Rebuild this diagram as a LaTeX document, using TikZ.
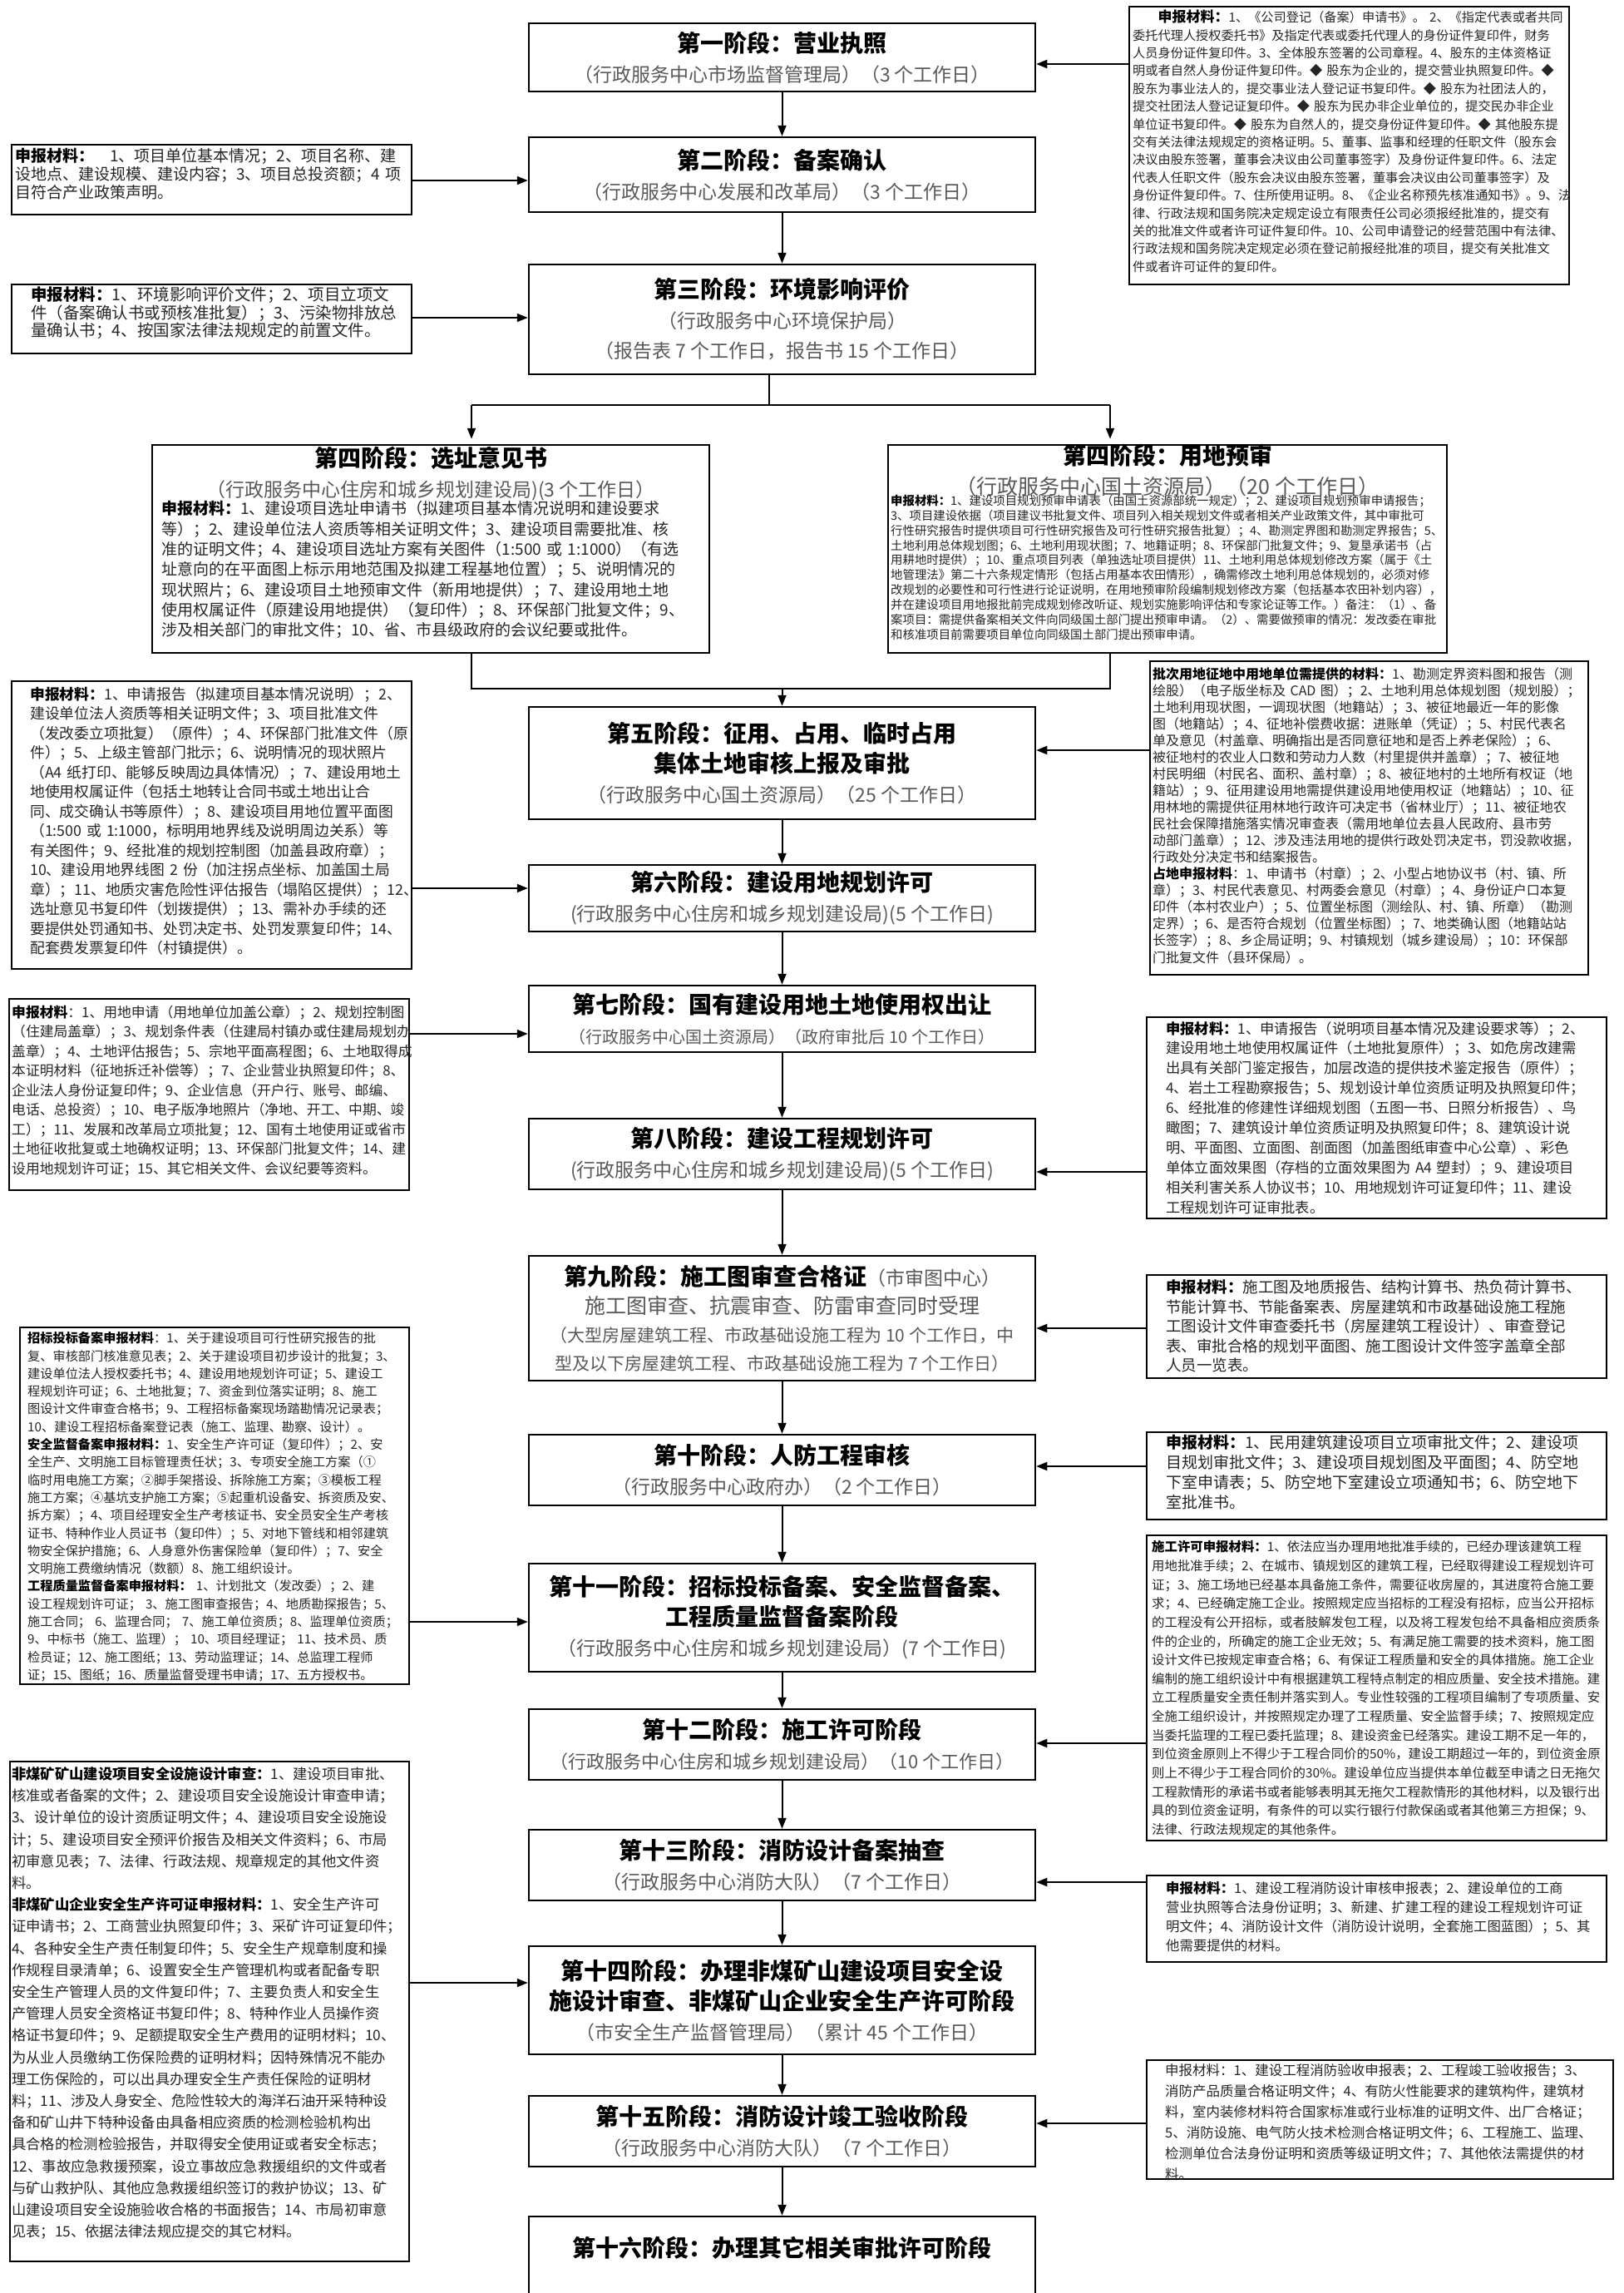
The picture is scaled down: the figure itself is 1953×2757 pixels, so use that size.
\documentclass[tikz,border=0pt]{standalone}
\usepackage{fontspec}
\setmainfont{Noto Sans CJK SC}
\usetikzlibrary{arrows.meta}
\XeTeXlinebreaklocale "zh"
\XeTeXlinebreakskip=0pt plus 1pt
\setlength\parindent{0pt}
\newcommand\jl[1]{\leavevmode\hbox to \linewidth{#1}}
\newcommand\ttl{\fontsize{28}{36}\selectfont\bfseries\color{black}}
\newcommand\sbt{\fontsize{23}{36}\selectfont\color{black!65}}
\newcommand\lbl[1]{{\bfseries\color{black}#1}}
\tikzset{
  box/.style={draw=black, line width=2.5pt, rectangle, inner sep=0pt},
  stagetxt/.style={align=center, inner sep=0pt, font=\fontsize{23}{36}\selectfont},
  mat/.style={anchor=north west, inner sep=0pt, align=left, text=black!85},
  link/.style={line width=2pt, -{Triangle[length=13pt,width=10pt]}},
  plainline/.style={line width=2pt},
}
\begin{document}
\begin{tikzpicture}[x=1pt,y=-1pt]
\useasboundingbox (0,0) rectangle (1953,2757);
\fill[white] (0,0) rectangle (1953,2757);
\clip (0,0) rectangle (1953,2757);

% ---------- stage boxes ----------
\node[box, minimum width=609pt, minimum height=82pt] (s1) at (940.5,69) {};
\node[box, minimum width=609pt, minimum height=90pt] (s2) at (940.5,210) {};
\node[box, minimum width=609pt, minimum height=132pt] (s3) at (940.5,384) {};
\node[box, minimum width=670pt, minimum height=250pt] (s4l) at (518,660) {};
\node[box, minimum width=672pt, minimum height=250pt] (s4r) at (1404,660) {};
\node[box, minimum width=609pt, minimum height=135pt] (s5) at (940.5,917.5) {};
\node[box, minimum width=609pt, minimum height=80pt] (s6) at (940.5,1080) {};
\node[box, minimum width=609pt, minimum height=80pt] (s7) at (940.5,1225) {};
\node[box, minimum width=609pt, minimum height=85pt] (s8) at (940.5,1387.5) {};
\node[box, minimum width=609pt, minimum height=150pt] (s9) at (940.5,1585) {};
\node[box, minimum width=609pt, minimum height=85pt] (s10) at (940.5,1767.5) {};
\node[box, minimum width=609pt, minimum height=130pt] (s11) at (940.5,1945) {};
\node[box, minimum width=609pt, minimum height=85pt] (s12) at (940.5,2097.5) {};
\node[box, minimum width=609pt, minimum height=85pt] (s13) at (940.5,2242.5) {};
\node[box, minimum width=609pt, minimum height=130pt] (s14) at (940.5,2405) {};
\node[box, minimum width=609pt, minimum height=85pt] (s15) at (940.5,2562.5) {};
\node[box, minimum width=609pt, minimum height=125pt] (s16) at (940.5,2727.5) {};

% ---------- stage texts ----------
\node[stagetxt] (s1t) at (s1.center) {{\ttl 第一阶段：营业执照}\\{\sbt （行政服务中心市场监督管理局）（3 个工作日）}};
\node[stagetxt] (s2t) at (s2.center) {{\ttl 第二阶段：备案确认}\\{\sbt （行政服务中心发展和改革局）（3 个工作日）}};
\node[stagetxt] (s3t) at (s3.center) {{\ttl 第三阶段：环境影响评价}\\{\sbt （行政服务中心环境保护局）}\\{\sbt （报告表 7 个工作日，报告书 15 个工作日）}};
\node[stagetxt] (s4lt) at (518,570) {{\ttl 第四阶段：选址意见书}\\{\sbt （行政服务中心住房和城乡规划建设局)(3 个工作日）}};
\node[stagetxt] (s4rt) at (1404,565) {{\ttl 第四阶段：用地预审}\\{\fontsize{25}{36}\selectfont\color{black!65}（行政服务中心国土资源局）（20 个工作日）}};
\node[stagetxt] (s5t) at (s5.center) {{\ttl 第五阶段：征用、占用、临时占用}\\{\ttl 集体土地审核上报及审批}\\{\sbt （行政服务中心国土资源局）（25 个工作日）}};
\node[stagetxt] (s6t) at (s6.center) {{\ttl 第六阶段：建设用地规划许可}\\{\sbt (行政服务中心住房和城乡规划建设局)(5 个工作日)}};
\node[stagetxt] (s7t) at (s7.center) {{\ttl 第七阶段：国有建设用地土地使用权出让}\\{\fontsize{20}{36}\selectfont\color{black!65}（行政服务中心国土资源局）（政府审批后 10 个工作日）}};
\node[stagetxt] (s8t) at (s8.center) {{\ttl 第八阶段：建设工程规划许可}\\{\sbt (行政服务中心住房和城乡规划建设局)(5 个工作日)}};
\node[stagetxt, font=\fontsize{21}{34}\selectfont] (s9t) at (s9.center) {{\ttl 第九阶段：施工图审查合格证}{\sbt （市审图中心）}\\{\fontsize{25}{34}\selectfont\color{black!65}施工图审查、抗震审查、防雷审查同时受理}\\{\fontsize{21}{34}\selectfont\color{black!65}（大型房屋建筑工程、市政基础设施工程为 10 个工作日，中}\\{\fontsize{21}{34}\selectfont\color{black!65}型及以下房屋建筑工程、市政基础设施工程为 7 个工作日）}};
\node[stagetxt] (s10t) at (s10.center) {{\ttl 第十阶段：人防工程审核}\\{\sbt （行政服务中心政府办）（2 个工作日）}};
\node[stagetxt] (s11t) at (s11.center) {{\ttl 第十一阶段：招标投标备案、安全监督备案、}\\{\ttl 工程质量监督备案阶段}\\{\sbt （行政服务中心住房和城乡规划建设局）(7 个工作日)}};
\node[stagetxt] (s12t) at (s12.center) {{\ttl 第十二阶段：施工许可阶段}\\{\fontsize{22}{36}\selectfont\color{black!65}（行政服务中心住房和城乡规划建设局）（10 个工作日）}};
\node[stagetxt] (s13t) at (s13.center) {{\ttl 第十三阶段：消防设计备案抽查}\\{\sbt （行政服务中心消防大队）（7 个工作日）}};
\node[stagetxt] (s14t) at (s14.center) {{\ttl 第十四阶段：办理非煤矿山建设项目安全设}\\{\ttl 施设计审查、非煤矿山企业安全生产许可阶段}\\{\sbt （市安全生产监督管理局）（累计 45 个工作日）}};
\node[stagetxt] (s15t) at (s15.center) {{\ttl 第十五阶段：消防设计竣工验收阶段}\\{\sbt （行政服务中心消防大队）（7 个工作日）}};
\node[stagetxt] (s16t) at (940.5,2703) {{\ttl 第十六阶段：办理其它相关审批许可阶段}};

% ---------- material boxes ----------
\node[box, minimum width=529pt, minimum height=334pt] (r1) at (1622.5,175) {};
\node[box, minimum width=481pt, minimum height=84pt] (l2) at (254.5,216) {};
\node[box, minimum width=481pt, minimum height=83pt] (l3) at (254.5,383.5) {};
\node[box, minimum width=481pt, minimum height=346pt] (l5) at (254.5,992) {};
\node[box, minimum width=527pt, minimum height=377pt] (r5) at (1646.5,983.5) {};
\node[box, minimum width=481pt, minimum height=230pt] (l7) at (251.5,1316) {};
\node[box, minimum width=553pt, minimum height=242pt] (r7) at (1655.5,1344) {};
\node[box, minimum width=553pt, minimum height=124pt] (r9) at (1655.5,1595) {};
\node[box, minimum width=553pt, minimum height=105pt] (r10) at (1655.5,1774.5) {};
\node[box, minimum width=468pt, minimum height=429pt] (l11) at (258,1810.5) {};
\node[box, minimum width=553pt, minimum height=367pt] (r12) at (1655.5,2029.5) {};
\node[box, minimum width=480pt, minimum height=601pt] (l13) at (252,2418.5) {};
\node[box, minimum width=553pt, minimum height=104pt] (r13) at (1655.5,2307) {};
\node[box, minimum width=561pt, minimum height=143pt] (r15) at (1659.5,2548.5) {};

% ---------- material texts ----------
\node[mat, text width=522pt, font=\fontsize{15.2}{21.4}\selectfont] (r1t) at (1362,12) {%
\jl{\hspace{2em}{\bfseries\color{black}\fontsize{17}{21.4}\selectfont 申报材料：}1、《公司登记（备案）申请书》。 2、《指定代表或者共同}\\
\jl{委托代理人授权委托书》及指定代表或委托代理人的身份证件复印件，财务}\\
\jl{人员身份证件复印件。3、全体股东签署的公司章程。4、股东的主体资格证}\\
\jl{明或者自然人身份证件复印件。◆ 股东为企业的，提交营业执照复印件。◆}\\
\jl{股东为事业法人的，提交事业法人登记证书复印件。◆ 股东为社团法人的，}\\
\jl{提交社团法人登记证复印件。◆ 股东为民办非企业单位的，提交民办非企业}\\
\jl{单位证书复印件。◆ 股东为自然人的，提交身份证件复印件。◆ 其他股东提}\\
\jl{交有关法律法规规定的资格证明。5、董事、监事和经理的任职文件（股东会}\\
\jl{决议由股东签署，董事会决议由公司董事签字）及身份证件复印件。6、法定}\\
\jl{代表人任职文件（股东会决议由股东签署，董事会决议由公司董事签字）及}\\
\jl{身份证件复印件。7、住所使用证明。8、《企业名称预先核准通知书》。9、法}\\
\jl{律、行政法规和国务院决定规定设立有限责任公司必须报经批准的，提交有}\\
\jl{关的批准文件或者许可证件复印件。10、公司申请登记的经营范围中有法律、}\\
\jl{行政法规和国务院决定规定必须在登记前报经批准的项目，提交有关批准文}\\
件或者许可证件的复印件。};

\node[mat, text width=474pt, font=\fontsize{19}{21.7}\selectfont] (l2t) at (18,178.5) {%
\jl{\lbl{申报材料：}　1、项目单位基本情况；2、项目名称、建}\\
\jl{设地点、建设规模、建设内容；3、项目总投资额；4 项}\\
目符合产业政策声明。};

\node[mat, text width=436pt, font=\fontsize{19.5}{21.5}\selectfont] (l3t) at (37,345) {%
\jl{\lbl{申报材料：}1、环境影响评价文件；2、项目立项文}\\
\jl{件（备案确认书或预核准批复）；3、污染物排放总}\\
量确认书；4、按国家法律法规规定的前置文件。};

\node[mat, text width=636pt, font=\fontsize{19}{24.3}\selectfont] (s4lb) at (194,602.5) {%
\jl{\lbl{申报材料：}1、建设项目选址申请书（拟建项目基本情况说明和建设要求}\\
\jl{等）；2、建设单位法人资质等相关证明文件；3、建设项目需要批准、核}\\
\jl{准的证明文件；4、建设项目选址方案有关图件（1:500 或 1:1000）（有选}\\
\jl{址意向的在平面图上标示用地范围及拟建工程基地位置）；5、说明情况的}\\
\jl{现状照片；6、建设项目土地预审文件（新用地提供）；7、建设用地土地}\\
\jl{使用权属证件（原建设用地提供）（复印件）；8、环保部门批复文件；9、}\\
涉及相关部门的审批文件；10、省、市县级政府的会议纪要或批件。};

\node[mat, text width=666pt, font=\fontsize{14.4}{17.9}\selectfont] (s4rb) at (1071,594.8) {%
\jl{\lbl{申报材料：}1、建设项目规划预审申请表（由国土资源部统一规定）；2、建设项目规划预审申请报告；}\\
\jl{3、项目建设依据（项目建议书批复文件、项目列入相关规划文件或者相关产业政策文件，其中审批可}\\
\jl{行性研究报告时提供项目可行性研究报告及可行性研究报告批复）；4、勘测定界图和勘测定界报告；5、}\\
\jl{土地利用总体规划图；6、土地利用现状图；7、地籍证明；8、环保部门批复文件；9、复垦承诺书（占}\\
\jl{用耕地时提供）；10、重点项目列表（单独选址项目提供）11、土地利用总体规划修改方案（属于《土}\\
\jl{地管理法》第二十六条规定情形（包括占用基本农田情形），确需修改土地利用总体规划的，必须对修}\\
\jl{改规划的必要性和可行性进行论证说明，在用地预审阶段编制规划修改方案（包括基本农田补划内容），}\\
\jl{并在建设项目用地报批前完成规划修改听证、规划实施影响评估和专家论证等工作。）备注：（1）、备}\\
\jl{案项目：需提供备案相关文件向同级国土部门提出预审申请。（2）、需要做预审的情况：发改委在审批}\\
和核准项目前需要项目单位向同级国土部门提出预审申请。};

\node[mat, text width=437pt, font=\fontsize{17.8}{23.5}\selectfont] (l5t) at (36,826) {%
\jl{\lbl{申报材料：}1、申请报告（拟建项目基本情况说明）；2、}\\
\jl{建设单位法人资质等相关证明文件；3、项目批准文件}\\
\jl{（发改委立项批复）（原件）；4、环保部门批准文件（原}\\
\jl{件）；5、上级主管部门批示；6、说明情况的现状照片}\\
\jl{（A4 纸打印、能够反映周边具体情况）；7、建设用地土}\\
\jl{地使用权属证件（包括土地转让合同书或土地出让合}\\
\jl{同、成交确认书等原件）；8、建设项目用地位置平面图}\\
\jl{（1:500 或 1:1000，标明用地界线及说明周边关系）等}\\
\jl{有关图件；9、经批准的规划控制图（加盖县政府章）；}\\
\jl{10、建设用地界线图 2 份（加注拐点坐标、加盖国土局}\\
\jl{章）；11、地质灾害危险性评估报告（塌陷区提供）；12、}\\
\jl{选址意见书复印件（划拨提供）；13、需补办手续的还}\\
\jl{要提供处罚通知书、处罚决定书、处罚发票复印件；14、}\\
配套费发票复印件（村镇提供）。};

\node[mat, text width=521pt, font=\fontsize{16}{20.05}\selectfont] (r5t) at (1386,802) {%
\jl{\lbl{批次用地征地中用地单位需提供的材料：}1、勘测定界资料图和报告（测}\\
\jl{绘股）（电子版坐标及 CAD 图）；2、土地利用总体规划图（规划股）；}\\
\jl{土地利用现状图，一调现状图（地籍站）；3、被征地最近一年的影像}\\
\jl{图（地籍站）；4、征地补偿费收据：进账单（凭证）；5、村民代表名}\\
\jl{单及意见（村盖章、明确指出是否同意征地和是否上养老保险）；6、}\\
\jl{被征地村的农业人口数和劳动力人数（村里提供并盖章）；7、被征地}\\
\jl{村民明细（村民名、面积、盖村章）；8、被征地村的土地所有权证（地}\\
\jl{籍站）；9、征用建设用地需提供建设用地使用权证（地籍站）；10、征}\\
\jl{用林地的需提供征用林地行政许可决定书（省林业厅）；11、被征地农}\\
\jl{民社会保障措施落实情况审查表（需用地单位去县人民政府、县市劳}\\
\jl{动部门盖章）；12、涉及违法用地的提供行政处罚决定书，罚没款收据，}\\
行政处分决定书和结案报告。\\
\jl{\lbl{占地申报材料}：1、申请书（村章）；2、小型占地协议书（村、镇、所}\\
\jl{章）；3、村民代表意见、村两委会意见（村章）；4、身份证户口本复}\\
\jl{印件（本村农业户）；5、位置坐标图（测绘队、村、镇、所章）（勘测}\\
\jl{定界）；6、是否符合规划（位置坐标图）；7、地类确认图（地籍站站}\\
\jl{长签字）；8、乡企局证明；9、村镇规划（城乡建设局）；10：环保部}\\
门批复文件（县环保局）。};

\node[mat, text width=476pt, font=\fontsize{16.8}{23.5}\selectfont] (l7t) at (14,1208.6) {%
\jl{\lbl{申报材料}：1、用地申请（用地单位加盖公章）；2、规划控制图}\\
\jl{（住建局盖章）；3、规划条件表（住建局村镇办或住建局规划办}\\
\jl{盖章）；4、土地评估报告；5、宗地平面高程图；6、土地取得成}\\
\jl{本证明材料（征地拆迁补偿等）；7、企业营业执照复印件；8、}\\
\jl{企业法人身份证复印件；9、企业信息（开户行、账号、邮编、}\\
\jl{电话、总投资）；10、电子版净地照片（净地、开工、中期、竣}\\
\jl{工）；11、发展和改革局立项批复；12、国有土地使用证或省市}\\
\jl{土地征收批复或土地确权证明；13、环保部门批复文件；14、建}\\
设用地规划许可证；15、其它相关文件、会议纪要等资料。};

\node[mat, text width=509pt, font=\fontsize{17.3}{23.9}\selectfont] (r7t) at (1402,1228) {%
\jl{\lbl{申报材料：}1、申请报告（说明项目基本情况及建设要求等）；2、}\\
\jl{建设用地土地使用权属证件（土地批复原件）；3、如危房改建需}\\
\jl{出具有关部门鉴定报告，加层改造的提供技术鉴定报告（原件）；}\\
\jl{4、岩土工程勘察报告；5、规划设计单位资质证明及执照复印件；}\\
\jl{6、经批准的修建性详细规划图（五图一书、日照分析报告）、鸟}\\
\jl{瞰图；7、建筑设计单位资质证明及执照复印件；8、建筑设计说}\\
\jl{明、平面图、立面图、剖面图（加盖图纸审查中心公章）、彩色}\\
\jl{单体立面效果图（存档的立面效果图为 A4 塑封）；9、建设项目}\\
\jl{相关利害关系人协议书；10、用地规划许可证复印件；11、建设}\\
工程规划许可证审批表。};

\node[mat, text width=509pt, font=\fontsize{18.5}{23.5}\selectfont] (r9t) at (1402,1538.7) {%
\jl{\lbl{申报材料：}施工图及地质报告、结构计算书、热负荷计算书、}\\
\jl{节能计算书、节能备案表、房屋建筑和市政基础设施工程施}\\
\jl{工图设计文件审查委托书（房屋建筑工程设计）、审查登记}\\
\jl{表、审批合格的规划平面图、施工图设计文件签字盖章全部}\\
人员一览表。};

\node[mat, text width=509pt, font=\fontsize{19}{24}\selectfont] (r10t) at (1402,1725.5) {%
\jl{\lbl{申报材料：}1、民用建筑建设项目立项审批文件；2、建设项}\\
\jl{目规划审批文件；3、建设项目规划图及平面图；4、防空地}\\
\jl{下室申请表；5、防空地下室建设立项通知书；6、防空地下}\\
室批准书。};

\node[mat, text width=440pt, font=\fontsize{15.2}{21.3}\selectfont] (l11t) at (33,1601.4) {%
\jl{\lbl{招标投标备案申报材料}：1、关于建设项目可行性研究报告的批}\\
\jl{复、审核部门核准意见表；2、关于建设项目初步设计的批复；3、}\\
\jl{建设单位法人授权委托书；4、建设用地规划许可证；5、建设工}\\
\jl{程规划许可证；6、土地批复；7、资金到位落实证明；8、施工}\\
\jl{图设计文件审查合格书；9、工程招标备案现场踏勘情况记录表；}\\
10、建设工程招标备案登记表（施工、监理、勘察、设计）。\\
\jl{\lbl{安全监督备案申报材料：}1、安全生产许可证（复印件）；2、安}\\
\jl{全生产、文明施工目标管理责任状；3、专项安全施工方案（①}\\
\jl{临时用电施工方案；②脚手架搭设、拆除施工方案；③模板工程}\\
\jl{施工方案；④基坑支护施工方案；⑤起重机设备安、拆资质及安、}\\
\jl{拆方案）；4、项目经理安全生产考核证书、安全员安全生产考核}\\
\jl{证书、特种作业人员证书（复印件）；5、对地下管线和相邻建筑}\\
\jl{物安全保护措施；6、人身意外伤害保险单（复印件）；7、安全}\\
文明施工费缴纳情况（数额）8、施工组织设计。\\
\jl{\lbl{工程质量监督备案申报材料：} 1、计划批文（发改委）；2、建}\\
\jl{设工程规划许可证； 3、施工图审查报告；4、地质勘探报告；5、}\\
\jl{施工合同； 6、监理合同； 7、施工单位资质；8、监理单位资质；}\\
\jl{9、中标书（施工、监理）； 10、项目经理证； 11、技术员、质}\\
\jl{检员证；12、施工图纸；13、劳动监理证；14、总监理工程师}\\
证；15、图纸；16、质量监督受理书申请；17、五方授权书。};

\node[mat, text width=543pt, font=\fontsize{15.4}{22.65}\selectfont] (r12t) at (1385,1852.3) {%
\jl{\lbl{施工许可申报材料：}1、依法应当办理用地批准手续的，已经办理该建筑工程}\\
\jl{用地批准手续；2、在城市、镇规划区的建筑工程，已经取得建设工程规划许可}\\
\jl{证；3、施工场地已经基本具备施工条件，需要征收房屋的，其进度符合施工要}\\
\jl{求；4、已经确定施工企业。按照规定应当招标的工程没有招标，应当公开招标}\\
\jl{的工程没有公开招标，或者肢解发包工程，以及将工程发包给不具备相应资质条}\\
\jl{件的企业的，所确定的施工企业无效；5、有满足施工需要的技术资料，施工图}\\
\jl{设计文件已按规定审查合格；6、有保证工程质量和安全的具体措施。施工企业}\\
\jl{编制的施工组织设计中有根据建筑工程特点制定的相应质量、安全技术措施。建}\\
\jl{立工程质量安全责任制并落实到人。专业性较强的工程项目编制了专项质量、安}\\
\jl{全施工组织设计，并按照规定办理了工程质量、安全监督手续；7、按照规定应}\\
\jl{当委托监理的工程已委托监理；8、建设资金已经落实。建设工期不足一年的，}\\
\jl{到位资金原则上不得少于工程合同价的50\%，建设工期超过一年的，到位资金原}\\
\jl{则上不得少于工程合同价的30\%。建设单位应当提供本单位截至申请之日无拖欠}\\
\jl{工程款情形的承诺书或者能够表明其无拖欠工程款情形的其他材料，以及银行出}\\
\jl{具的到位资金证明，有条件的可以实行银行付款保函或者其他第三方担保；9、}\\
法律、行政法规规定的其他条件。};

\node[mat, text width=475pt, font=\fontsize{17.3}{26.2}\selectfont] (l13t) at (14,2124.3) {%
\jl{\lbl{非煤矿矿山建设项目安全设施设计审查：}1、建设项目审批、}\\
\jl{核准或者备案的文件；2、建设项目安全设施设计审查申请；}\\
\jl{3、设计单位的设计资质证明文件；4、建设项目安全设施设}\\
\jl{计；5、建设项目安全预评价报告及相关文件资料；6、市局}\\
\jl{初审意见表；7、法律、行政法规、规章规定的其他文件资}\\
料。\\
\jl{\lbl{非煤矿山企业安全生产许可证申报材料：}1、安全生产许可}\\
\jl{证申请书；2、工商营业执照复印件；3、采矿许可证复印件；}\\
\jl{4、各种安全生产责任制复印件；5、安全生产规章制度和操}\\
\jl{作规程目录清单；6、设置安全生产管理机构或者配备专职}\\
\jl{安全生产管理人员的文件复印件；7、主要负责人和安全生}\\
\jl{产管理人员安全资格证书复印件；8、特种作业人员操作资}\\
\jl{格证书复印件；9、足额提取安全生产费用的证明材料；10、}\\
\jl{为从业人员缴纳工伤保险费的证明材料；因特殊情况不能办}\\
\jl{理工伤保险的，可以出具办理安全生产责任保险的证明材}\\
\jl{料；11、涉及人身安全、危险性较大的海洋石油开采特种设}\\
\jl{备和矿山井下特种设备由具备相应资质的检测检验机构出}\\
\jl{具合格的检测检验报告，并取得安全使用证或者安全标志；}\\
\jl{12、事故应急救援预案，设立事故应急救援组织的文件或者}\\
\jl{与矿山救护队、其他应急救援组织签订的救护协议；13、矿}\\
\jl{山建设项目安全设施验收合格的书面报告；14、市局初审意}\\
见表；15、依据法律法规应提交的其它材料。};

\node[mat, text width=511pt, font=\fontsize{16.4}{23}\selectfont] (r13t) at (1402,2261.8) {%
\jl{\lbl{申报材料：}1、建设工程消防设计审核申报表；2、建设单位的工商}\\
\jl{营业执照等合法身份证明；3、新建、扩建工程的建设工程规划许可证}\\
\jl{明文件；4、消防设计文件（消防设计说明，全套施工图蓝图）；5、其}\\
他需要提供的材料。};

\node[mat, text width=517pt, font=\fontsize{16.5}{25}\selectfont] (r15t) at (1401,2481.7) {%
\jl{申报材料：1、建设工程消防验收申报表；2、工程竣工验收报告；3、}\\
\jl{消防产品质量合格证明文件；4、有防火性能要求的建筑构件，建筑材}\\
\jl{料，室内装修材料符合国家标准或行业标准的证明文件、出厂合格证；}\\
\jl{5、消防设施、电气防火技术检测合格证明文件；6、工程施工、监理、}\\
\jl{检测单位合法身份证明和资质等级证明文件；7、其他依法需提供的材}\\
料。};

% ---------- connector levels ----------
\coordinate (y1) at (0,77);
\coordinate (y2) at (0,217);
\coordinate (y3) at (0,382);
\coordinate (y5) at (0,902);
\coordinate (y6) at (0,1068);
\coordinate (y7) at (0,1243);
\coordinate (y8) at (0,1409);
\coordinate (y9) at (0,1597);
\coordinate (y10) at (0,1763);
\coordinate (y11) at (0,1950);
\coordinate (y12) at (0,2096);
\coordinate (y13) at (0,2263);
\coordinate (y14) at (0,2384);
\coordinate (y15) at (0,2553);

\draw[link] (r1.west |- y1) -- (s1.east |- y1);
\draw[link] (l2.east |- y2) -- (s2.west |- y2);
\draw[link] (l3.east |- y3) -- (s3.west |- y3);
\draw[link] (r5.west |- y5) -- (s5.east |- y5);
\draw[link] (l5.east |- y6) -- (s6.west |- y6);
\draw[link] (l7.east |- y7) -- (s7.west |- y7);
\draw[link] (r7.west |- y8) -- (s8.east |- y8);
\draw[link] (r9.west |- y9) -- (s9.east |- y9);
\draw[link] (r10.west |- y10) -- (s10.east |- y10);
\draw[link] (l11.east |- y11) -- (s11.west |- y11);
\draw[link] (r12.west |- y12) -- (s12.east |- y12);
\draw[link] (r13.west |- y13) -- (s13.east |- y13);
\draw[link] (l13.east |- y14) -- (s14.west |- y14);
\draw[link] (r15.west |- y15) -- (s15.east |- y15);

% ---------- vertical flow ----------
\draw[link] (s1) -- (s2);
\draw[link] (s2) -- (s3);
\coordinate (fk) at (925,487);
\coordinate (fkl) at (567,487);
\coordinate (fkr) at (1335,487);
\draw[plainline] (fk |- s3.south) -- (fk);
\draw[plainline] (fkl) -- (fkr);
\draw[link] (fkl) -- ([yshift=6pt]fkl |- s4l.north);
\draw[link] (fkr) -- ([yshift=6pt]fkr |- s4r.north);
\coordinate (jn) at (940.5,828);
\coordinate (jnl) at (567,828);
\coordinate (jnr) at (1335,828);
\draw[plainline] (jnl |- s4l.south) -- (jnl) -- (jnr) -- (jnr |- s4r.south);
\draw[link] (jn) -- (s5.north);
\draw[link] (s5) -- (s6);
\draw[link] (s6) -- (s7);
\draw[link] (s7) -- (s8);
\draw[link] (s8) -- (s9);
\draw[link] (s9) -- (s10);
\draw[link] (s10) -- (s11);
\draw[link] (s11) -- (s12);
\draw[link] (s12) -- (s13);
\draw[link] (s13) -- (s14);
\draw[link] (s14) -- (s15);
\draw[link] (s15) -- (s16);
\end{tikzpicture}
\end{document}
